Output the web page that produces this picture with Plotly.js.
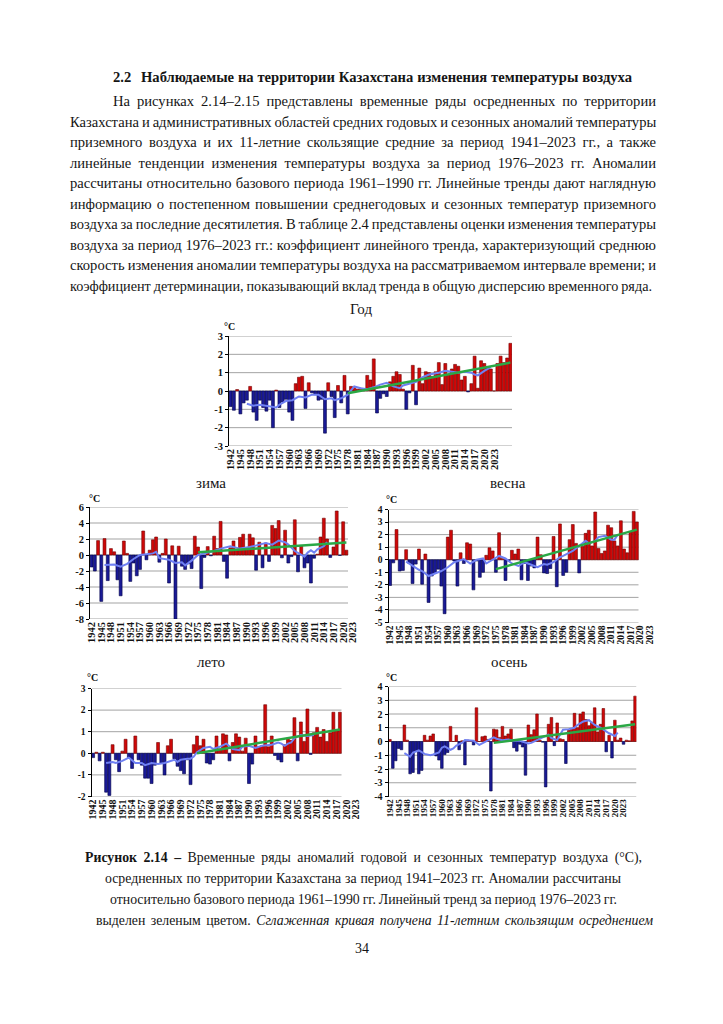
<!DOCTYPE html>
<html><head><meta charset="utf-8">
<script src="https://cdn.plot.ly/plotly-3.0.1.min.js"></script>
<style>
html,body{margin:0;padding:0;background:#fff;}
#page{position:relative;width:723px;height:1024px;overflow:hidden;background:#fff;}
#chart{position:absolute;left:0;top:0;width:723px;height:1024px;}
#txt{position:absolute;left:0;top:0;width:723px;height:1024px;pointer-events:none;}
.ln{position:absolute;white-space:nowrap;font-family:'Liberation Serif','Times New Roman',serif;font-size:14.6px;line-height:20px;color:#151515;}
.ln span{display:inline-block;white-space:nowrap;font-family:'Liberation Serif','Times New Roman',serif;}
</style></head>
<body><div id="page"><div id="chart"></div><div id="txt"></div></div>
<script>
// ---------- text ----------
const headingNum = '2.2';
const headingText = 'Наблюдаемые на территории Казахстана изменения температуры воздуха';
const bodyLines = [
 'На рисунках 2.14–2.15 представлены временные ряды осредненных по территории',
 'Казахстана и административных областей средних годовых и сезонных аномалий температуры',
 'приземного воздуха и их 11-летние скользящие средние за период 1941–2023 гг., а также',
 'линейные тенденции изменения температуры воздуха за период 1976–2023 гг. Аномалии',
 'рассчитаны относительно базового периода 1961–1990 гг. Линейные тренды дают наглядную',
 'информацию о постепенном повышении среднегодовых и сезонных температур приземного',
 'воздуха за последние десятилетия. В таблице 2.4 представлены оценки изменения температуры',
 'воздуха за период 1976–2023 гг.: коэффициент линейного тренда, характеризующий среднюю',
 'скорость изменения аномалии температуры воздуха на рассматриваемом интервале времени; и',
 'коэффициент детерминации, показывающий вклад тренда в общую дисперсию временного ряда.'
];
const captionLines = [
 '<b>Рисунок 2.14 –</b> Временные ряды аномалий годовой и сезонных температур воздуха (°C),',
 'осредненных по территории Казахстана за период 1941–2023 гг. Аномалии рассчитаны',
 'относительно базового периода 1961–1990 гг. Линейный тренд за период 1976–2023 гг.',
 'выделен зеленым цветом. <i>Сглаженная кривая получена 11-летним скользящим осреднением</i>'
];
const pageNumber = '34';
const panelTitles = ['Год', 'зима', 'весна', 'лето', 'осень'];
const unitLabel = '°C';

// ---------- data ----------
const tickLabels = ['1942','1945','1948','1951','1954','1957','1960','1963','1966','1969','1972','1975','1978','1981','1984','1987','1990','1993','1996','1999','2002','2005','2008','2011','2014','2017','2020','2023'];
const startYear = 1942;

const yearVals = [
 -0.85,-1.05,0.08,-1.25,-0.65,-0.5,0.25,-1.15,-1.6,-0.5,
 -0.9,-1.1,-0.5,-2.0,0.05,-0.9,-0.6,-0.45,-1.15,-1.6,
 0.4,0.75,0.8,-0.95,0.45,-0.1,-0.2,-0.5,-0.45,-2.3,
 0.45,-0.3,-1.45,0.3,-0.65,0.85,-1.25,0.25,0.2,0.1,
 0.15,0.1,0.85,0.6,1.75,-1.2,-0.4,-0.15,-0.3,0.5,
 0.8,1.05,0.9,0.1,-1.0,-0.1,1.4,-0.75,1.25,0.4,
 1.05,1.0,0.8,1.05,1.55,0.35,1.5,0.9,1.2,1.45,
 1.35,0.6,0.8,-0.05,0.4,1.9,0.15,1.65,1.5,1.3,
 1.2,0.0,1.5,1.9,1.55,1.8,2.6];
const yearSmooth = [[1947,-0.7],[1949,-0.8],[1951,-0.75],[1954,-0.85],[1956,-0.9],[1957,-0.75],[1959,-0.55],[1961,-0.5],[1963,-0.3],[1965,-0.35],[1967,-0.2],[1969,-0.2],[1971,-0.45],[1973,-0.4],[1974,-0.5],[1976,-0.4],[1978,-0.2],[1980,0.25],[1982,0.15],[1984,0.1],[1986,0.2],[1988,0.35],[1990,0.45],[1992,0.25],[1994,0.15],[1995,0.3],[1997,0.4],[1999,0.5],[2001,0.75],[2003,0.9],[2006,1.0],[2008,1.1],[2010,1.05],[2012,1.0],[2014,1.05],[2016,1.0],[2017,0.9],[2018,0.85],[2020,1.1],[2022,1.3]];
const yearTrend = [[1978,-0.12],[2028,1.55]];

const winterVals = [
 -1.5,-2.0,1.8,-5.8,2.05,-3.2,0.8,0.4,-3.1,-5.1,
 1.75,0.2,-3.3,-1.0,-2.6,-1.8,3.0,-0.6,0.6,1.9,
 2.25,-0.9,0.2,2.0,-3.5,1.15,-8.0,1.1,-1.4,-1.8,
 -1.1,-1.7,2.35,1.0,-4.2,-0.3,1.05,-0.1,2.35,0.8,
 4.2,-0.8,-2.9,0.9,1.75,0.6,2.2,2.6,0.8,2.6,
 2.15,-1.9,1.6,-1.6,1.5,-0.8,3.7,3.3,4.3,-0.35,
 3.1,-1.0,-0.2,4.4,-2.1,1.2,-1.6,-1.0,-3.5,-0.4,
 0.1,2.25,4.6,2.0,-0.3,1.0,5.5,-0.05,4.15,0.6];
const winterSmooth = [[1946,-1.25],[1949,-1.2],[1951,-1.45],[1953,-1.1],[1955,-0.5],[1957,0.0],[1959,0.1],[1961,0.2],[1962,0.4],[1963,-0.4],[1966,-0.6],[1968,-1.0],[1970,-0.9],[1971,-1.3],[1973,-0.7],[1975,0.0],[1977,0.2],[1980,0.5],[1982,0.8],[1985,1.1],[1988,0.8],[1991,1.0],[1994,1.3],[1996,1.5],[1998,1.3],[1999,1.5],[2000,1.8],[2002,1.6],[2003,1.3],[2005,0.5],[2007,0.0],[2008,-0.2],[2009,0.3],[2010,0.6],[2011,0.3],[2012,0.7],[2014,1.1],[2015,1.6]];
const winterTrend = [[1975,0.33],[2021,1.55]];

const springVals = [
 -2.05,-0.25,2.4,-0.9,-0.85,0.8,-0.3,-1.9,-0.35,0.85,
 -1.95,0.45,-3.4,-1.3,-1.1,-0.75,-2.1,-4.3,1.8,2.35,
 -0.1,-2.1,0.55,-0.3,1.35,1.25,-2.4,-0.1,-1.4,-1.0,
 0.35,0.95,0.7,-1.0,2.15,0.1,-1.65,-0.1,0.75,0.45,
 0.85,-1.6,-0.3,-1.65,-0.5,-0.65,1.8,0.4,-1.05,-1.1,
 -0.7,1.85,-2.15,2.85,-1.25,-1.0,1.6,2.8,1.3,-1.05,
 1.05,2.1,2.35,1.1,3.8,0.9,0.5,0.7,2.75,2.55,
 1.5,1.1,3.1,0.85,0.55,2.25,3.85,3.0];
const springSmooth = [[1947,-0.15],[1949,-0.5],[1951,-0.8],[1952,-0.9],[1954,-1.3],[1956,-1.1],[1958,-0.9],[1960,-0.6],[1962,-0.2],[1965,0.05],[1967,-0.3],[1969,0.0],[1971,0.1],[1972,-0.3],[1974,0.0],[1976,0.3],[1978,0.1],[1980,-0.3],[1982,-0.5],[1984,-0.2],[1986,-0.4],[1988,-0.6],[1990,-0.35],[1991,-0.4],[1993,-0.2],[1995,0.2],[1996,0.3],[1999,0.7],[2001,1.1],[2003,1.5],[2004,1.3],[2006,1.5],[2007,1.8],[2009,1.9],[2011,1.6],[2012,1.6],[2013,2.0]];
const springTrend = [[1975,-0.75],[2019,2.4]];

const summerVals = [
 -0.2,0.05,-0.35,0.05,-1.8,-1.95,0.4,-0.3,-0.85,0.1,
 0.65,-0.2,-0.7,0.8,-0.3,-0.55,-1.15,-1.15,-1.4,-0.55,
 0.5,-0.45,-1.0,0.35,0.65,-0.25,-0.6,-0.8,-0.95,-0.3,
 -1.45,0.4,0.8,0.35,0.65,-0.45,-0.5,-0.3,0.8,0.2,
 0.9,0.85,-0.35,0.5,0.9,0.75,0.1,0.7,-1.4,-0.5,
 0.8,0.3,0.35,2.25,0.3,0.8,-0.1,-0.3,-0.4,0.4,
 0.7,0.6,1.65,-0.35,1.45,0.55,2.05,-0.05,0.95,1.2,
 0.75,1.1,0.55,0.95,1.9,1.05,1.9];
const summerSmooth = [[1946,-0.45],[1948,-0.4],[1949,-0.45],[1951,-0.35],[1953,-0.2],[1955,-0.45],[1957,-0.45],[1958,-0.55],[1960,-0.45],[1962,-0.5],[1964,-0.45],[1965,-0.4],[1967,-0.3],[1968,-0.4],[1969,-0.3],[1971,-0.25],[1972,-0.25],[1973,-0.15],[1974,0.05],[1976,0.25],[1978,0.3],[1979,0.2],[1981,0.3],[1983,0.45],[1985,0.2],[1987,0.15],[1988,0.3],[1990,0.35],[1992,0.25],[1994,0.35],[1997,0.4],[1999,0.5],[2000,0.45],[2001,0.35],[2002,0.45],[2003,0.5],[2004,0.7],[2006,0.85],[2008,0.8],[2010,0.85]];
const summerTrend = [[1974,0.0],[2018,1.1]];

const autumnVals = [
 0.15,-1.95,-1.4,-0.5,-0.6,1.2,0.1,-2.35,-2.25,-0.7,
 -2.35,-2.1,0.45,0.1,0.4,0.55,-1.05,-1.35,-1.95,-0.95,
 -0.8,1.1,0.0,0.45,-0.6,0.05,-1.7,0.1,0.05,-0.25,
 2.45,0.0,0.35,0.4,0.15,-3.6,0.9,0.85,0.3,1.1,
 0.4,0.55,0.9,-0.45,-0.7,-0.2,-0.4,-2.45,1.2,0.5,
 0.85,2.0,0.1,-0.05,-3.3,1.25,1.75,-0.3,1.35,0.2,
 0.15,-1.6,0.8,0.9,2.05,1.0,2.0,2.15,1.6,1.15,
 1.4,2.45,0.7,1.25,2.4,-0.75,0.45,-1.2,1.55,0.1,
 0.25,-0.2,0.1,0.05,1.5,3.3];
const autumnSmooth = [[1947,-0.85],[1949,-1.1],[1950,-0.8],[1952,-0.65],[1954,-0.9],[1956,-1.0],[1957,-0.95],[1959,-0.8],[1960,-0.45],[1961,-0.35],[1963,-0.6],[1964,-0.5],[1965,-0.3],[1967,-0.1],[1968,0.1],[1970,0.1],[1971,0.05],[1973,-0.25],[1975,-0.05],[1976,0.05],[1978,0.3],[1979,0.2],[1981,0.1],[1983,0.15],[1985,0.05],[1987,0.05],[1990,-0.15],[1991,-0.1],[1993,0.1],[1995,0.35],[1997,0.5],[1998,0.25],[2000,0.1],[2001,0.5],[2002,0.85],[2004,0.9],[2006,1.0],[2007,1.2],[2009,1.45],[2011,1.55],[2012,1.4],[2013,1.2],[2015,1.0],[2016,0.85],[2018,0.6],[2020,0.4],[2021,0.65]];
const autumnTrend = [[1978,-0.1],[2027,1.25]];

const yTicksYear = [-3,-2,-1,0,1,2,3];
const yTicksWinter = [-8,-6,-4,-2,0,2,4,6];
const yTicksSpring = [-5,-4,-3,-2,-1,0,1,2,3,4];
const yTicksSummer = [-2,-1,0,1,2,3];
const yTicksAutumn = [-4,-3,-2,-1,0,1,2,3,4];

// ---------- layout (pixel boxes of the plot areas) ----------
const W = 723, H = 1024;
const panels = [
 {vals: yearVals,   smooth: yearSmooth,   trend: yearTrend,   yt: yTicksYear,   box:{l:229, r:512, t:336, b:446},   xf:10.5, yf:10.5, title:{x:361,y:309}, unit:{x:230,y:326}},
 {vals: winterVals, smooth: winterSmooth, trend: winterTrend, yt: yTicksWinter, box:{l:90, r:348, t:507, b:619},    xf:10.5, yf:10.5, title:{x:211,y:483}, unit:{x:94,y:498}},
 {vals: springVals, smooth: springSmooth, trend: springTrend, yt: yTicksSpring, box:{l:388.5, r:638.5, t:509.5, b:622.5}, xf:9.5, yf:9.5, title:{x:508,y:483}, unit:{x:391,y:499}},
 {vals: summerVals, smooth: summerSmooth, trend: summerTrend, yt: yTicksSummer, box:{l:91.5, r:341.5, t:688.5, b:796.5},  xf:10, yf:9.5, title:{x:211,y:662}, unit:{x:93,y:677}},
 {vals: autumnVals, smooth: autumnSmooth, trend: autumnTrend, yt: yTicksAutumn, box:{l:388.5, r:636.5, t:686.5, b:796.5}, xf:9, yf:10, title:{x:509,y:662}, unit:{x:391,y:677}}
];

const RED = '#cf0808', RED_D = '#700000', BLUE = '#1a1a96', BLUE_D = '#000046';
const SMOOTH = '#6f80f2', TREND = '#2aa845', GRID = '#a3a3a3';
const tickYears = tickLabels.map(Number);
const lastTick = Math.max.apply(null, tickYears);

const traces = [], shapes = [], annotations = [];
const layout = {
  width: W, height: H, margin:{l:0,r:0,t:0,b:0},
  paper_bgcolor:'rgba(0,0,0,0)', plot_bgcolor:'rgba(0,0,0,0)',
  showlegend:false, bargap:0.1,
  font:{family:'Liberation Serif, Times New Roman, serif', color:'#111'}
};

panels.forEach((p, i) => {
  const k = i + 1;
  const sfx = k === 1 ? '' : String(k);
  const xa = 'x' + sfx, ya = 'y' + sfx;
  const n = p.vals.length;
  const years = p.vals.map((_, j) => startYear + j);
  const ppc = (p.box.r - p.box.l) / n;
  const x0 = startYear - 0.5, x1 = startYear + n - 0.5;
  const xr = [x0, Math.max(x1, lastTick + 0.5)];
  const rightPx = p.box.l + (xr[1] - xr[0]) * ppc;
  layout['xaxis' + sfx] = {
    domain:[p.box.l / W, rightPx / W], range: xr, anchor: ya,
    tickmode:'array', tickvals: tickYears, ticktext: tickLabels, tickangle:-90,
    showgrid:false, zeroline:false, showline:false, ticks:'',
    tickfont:{family:'Liberation Serif, serif', size:p.xf, color:'#111', weight:'bold'}
  };
  layout['yaxis' + sfx] = {
    domain:[1 - p.box.b / H, 1 - p.box.t / H], range:[p.yt[0], p.yt[p.yt.length-1]], anchor: xa,
    tickmode:'array', tickvals: p.yt, ticktext: p.yt.map(String),
    showgrid:false, zeroline:false, showline:true, linecolor:'#000', linewidth:1,
    ticks:'outside', ticklen:3, tickcolor:'#000', tickwidth:1,
    tickfont:{family:'Liberation Serif, serif', size:p.yf, color:'#111', weight:'bold'}
  };
  p.yt.forEach(v => {
    shapes.push({type:'line', xref:xa, yref:ya, x0:x0, x1:x1, y0:v, y1:v,
      line:{color:GRID, width:1}, layer:'below'});
  });
  traces.push({type:'bar', x: years, y: p.vals, xaxis: xa, yaxis: ya, hoverinfo:'skip',
    marker:{color: p.vals.map(v => v < 0 ? BLUE : RED),
            line:{color: p.vals.map(v => v < 0 ? BLUE_D : RED_D), width:0.6}}});
  traces.push({type:'scatter', mode:'lines', x: p.smooth.map(d => d[0]), y: p.smooth.map(d => d[1]),
    xaxis: xa, yaxis: ya, hoverinfo:'skip', line:{color:SMOOTH, width:2}});
  traces.push({type:'scatter', mode:'lines', x: p.trend.map(d => d[0]), y: p.trend.map(d => d[1]),
    xaxis: xa, yaxis: ya, hoverinfo:'skip', line:{color:TREND, width:2.5}});
  annotations.push({xref:'paper', yref:'paper', x: p.unit.x / W, y: 1 - p.unit.y / H,
    xanchor:'center', yanchor:'middle', showarrow:false, text: unitLabel,
    font:{family:'Liberation Serif, serif', size:10, color:'#111', weight:'bold'}});
  annotations.push({xref:'paper', yref:'paper', x: p.title.x / W, y: 1 - p.title.y / H,
    xanchor:'center', yanchor:'middle', showarrow:false, text: panelTitles[i],
    font:{family:'Liberation Serif, serif', size:15, color:'#151515'}});
});
layout.shapes = shapes;
layout.annotations = annotations;

Plotly.newPlot('chart', traces, layout, {staticPlot:true, displayModeBar:false});

// ---------- page text ----------
const txt = document.getElementById('txt');
function addLine(html, opts) {
  const d = document.createElement('div');
  d.className = 'ln';
  d.style.left = (opts.left || 0) + 'px';
  d.style.top = (opts.cy - 10) + 'px';
  const s = document.createElement('span');
  s.innerHTML = html;
  if (opts.bold) s.style.fontWeight = 'bold';
  if (opts.size) s.style.fontSize = opts.size + 'px';
  d.appendChild(s);
  txt.appendChild(d);
  if (opts.target) {
    let w = s.getBoundingClientRect().width;
    const nSp = (s.textContent.match(/ /g) || []).length;
    let ws = nSp ? (opts.target - w) / nSp : 0;
    if (ws < -0.7) ws = -0.7;
    s.style.wordSpacing = ws + 'px';
    w = s.getBoundingClientRect().width;
    if (w > opts.target + 0.5) {
      s.style.transformOrigin = '0 50%';
      s.style.transform = 'scaleX(' + (opts.target / w) + ')';
    }
  }
  if (opts.center !== undefined) {
    const w2 = s.getBoundingClientRect().width;
    d.style.left = (opts.center - w2 / 2) + 'px';
  }
}
function layoutText() {
  addLine(headingNum, {left:113, cy:77, bold:true});
  addLine(headingText, {left:141, cy:77, bold:true, target:491});
  const bodyY = [101, 121.5, 142, 162.5, 183, 203.5, 224, 244.5, 265, 285.5];
  bodyLines.forEach((t, i) => {
    if (i === 0) addLine(t, {left:113, cy:bodyY[i], target:543});
    else if (i === bodyLines.length - 1) addLine(t, {left:70, cy:bodyY[i], target:582});
    else addLine(t, {left:70, cy:bodyY[i], target:586});
  });
  const capY = [857, 878, 899, 920];
  const capW = [557, 516, 507, 557];
  const capC = [363.5, 363, 363.5, 374.5];
  captionLines.forEach((t, i) => addLine(t, {cy:capY[i], target:capW[i], center:capC[i], size:13.8}));
  addLine(pageNumber, {cy:948, center:362, size:14});
}
if (document.fonts && document.fonts.ready) document.fonts.ready.then(layoutText); else layoutText();
</script>
</body></html>
